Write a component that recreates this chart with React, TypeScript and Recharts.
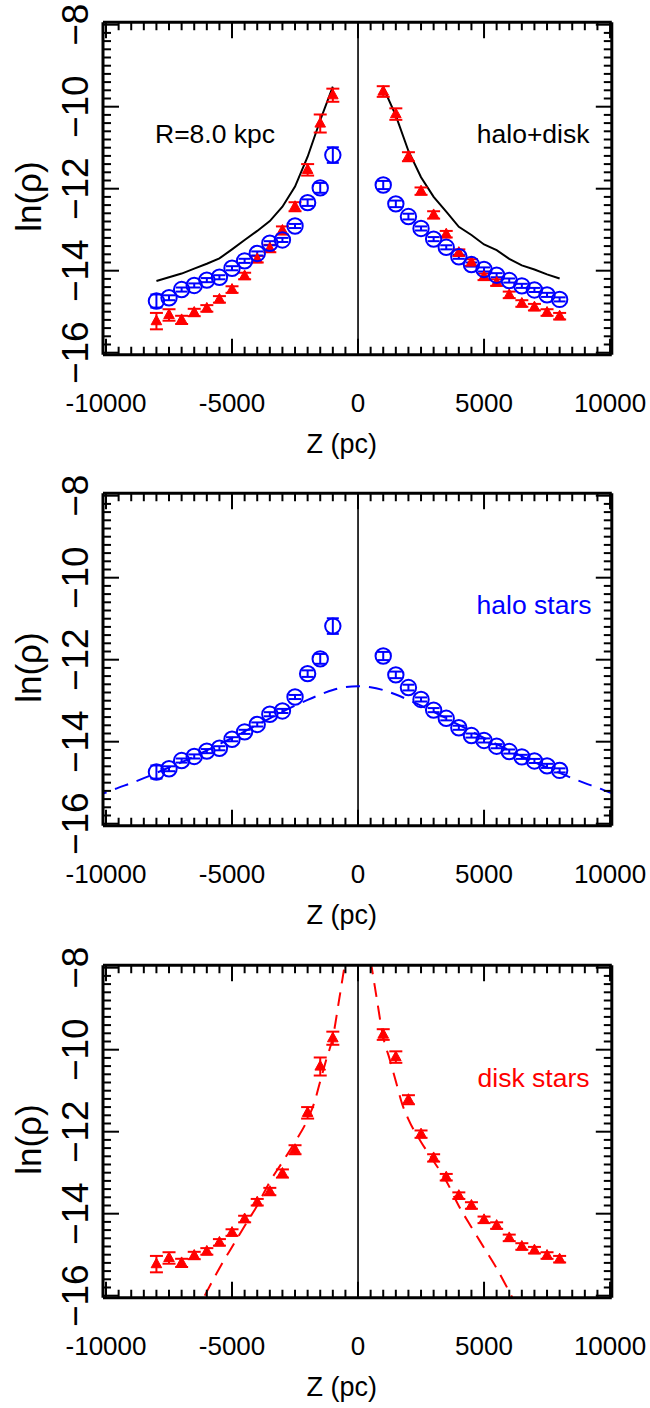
import React from "react";
import { ComposedChart, XAxis, YAxis, Scatter, Line, ErrorBar, ReferenceLine } from "recharts";

const FONT = "'Liberation Sans', Arial, Helvetica, sans-serif";
const BLUE = "#0000ff";
const RED = "#ff0000";

// ---- data ----
const Z_NEG = [-8000, -7500, -7000, -6500, -6000, -5500, -5000, -4500, -4000, -3500, -3000, -2500, -2000, -1500, -1000];
const Z_POS = [1000, 1500, 2000, 2500, 3000, 3500, 4000, 4500, 5000, 5500, 6000, 6500, 7000, 7500, 8000];

const HALO_NEG = [-14.74, -14.66, -14.46, -14.36, -14.23, -14.16, -13.94, -13.76, -13.58, -13.33, -13.25, -12.91, -12.34, -11.98, -11.18];
const HALO_POS = [-11.91, -12.37, -12.68, -12.97, -13.23, -13.43, -13.66, -13.85, -13.97, -14.11, -14.24, -14.37, -14.47, -14.59, -14.7];
const HALO_ERR_NEG = [0.16, 0.06, 0.05, 0.05, 0.05, 0.05, 0.05, 0.05, 0.05, 0.05, 0.05, 0.05, 0.08, 0.12, 0.19];
const HALO_ERR_POS = [0.1, 0.08, 0.07, 0.05, 0.05, 0.05, 0.05, 0.05, 0.05, 0.05, 0.05, 0.05, 0.05, 0.05, 0.05];

const DISK_NEG = [-15.23, -15.08, -15.2, -15.02, -14.92, -14.7, -14.46, -14.13, -13.72, -13.46, -13.02, -12.44, -11.54, -10.41, -9.72];
const DISK_POS = [-9.63, -10.18, -11.22, -12.06, -12.64, -13.11, -13.56, -13.8, -14.15, -14.29, -14.59, -14.8, -14.89, -15.02, -15.11];
const DISK_ERR_NEG = [0.2, 0.14, 0.1, 0.09, 0.08, 0.08, 0.08, 0.08, 0.08, 0.09, 0.1, 0.11, 0.14, 0.22, 0.16];
const DISK_ERR_POS = [0.13, 0.14, 0.11, 0.09, 0.09, 0.08, 0.08, 0.08, 0.08, 0.08, 0.08, 0.08, 0.08, 0.08, 0.08];

const SUM_NEG = [-14.25, -14.16, -14.07, -13.95, -13.83, -13.7, -13.48, -13.25, -13.03, -12.79, -12.44, -11.95, -11.22, -10.33, -9.51];
const SUM_POS = [-9.53, -10.22, -11.08, -11.72, -12.2, -12.56, -12.93, -13.13, -13.36, -13.5, -13.71, -13.87, -13.97, -14.09, -14.19];

const HALO_FIT_Z = [-10500, -10000, -9500, -9000, -8500, -8000, -7500, -7000, -6500, -6000, -5500, -5000, -4500, -4000, -3500, -3000, -2500, -2000, -1500, -1000, -500, 0, 500, 1000, 1500, 2000, 2500, 3000, 3500, 4000, 4500, 5000, 5500, 6000, 6500, 7000, 7500, 8000, 8500, 9000, 9500, 10000, 10500];
const HALO_FIT = [-15.35, -15.24, -15.12, -15.01, -14.89, -14.76, -14.63, -14.5, -14.36, -14.21, -14.06, -13.91, -13.75, -13.59, -13.43, -13.27, -13.12, -12.98, -12.85, -12.74, -12.67, -12.65, -12.67, -12.74, -12.85, -12.98, -13.12, -13.27, -13.43, -13.59, -13.75, -13.91, -14.06, -14.21, -14.36, -14.5, -14.63, -14.76, -14.89, -15.01, -15.12, -15.24, -15.35];

const DISK_FIT_Z_NEG = [-6500, -6000, -5500, -5000, -4500, -4000, -3500, -3000, -2500, -2000, -1750, -1500, -1250, -1000, -750, -500];
const DISK_FIT_NEG = [-16.5, -15.9, -15.33, -14.81, -14.3, -13.8, -13.22, -12.74, -12.25, -11.7, -11.32, -10.77, -10.22, -9.7, -8.78, -7.82];
const DISK_FIT_Z_POS = [500, 750, 1000, 1250, 1500, 1750, 2000, 2500, 3000, 3500, 4000, 4500, 5000, 5500, 6000, 6500];
const DISK_FIT_POS = [-7.82, -8.78, -9.7, -10.22, -10.77, -11.32, -11.7, -12.25, -12.72, -13.2, -13.81, -14.33, -14.83, -15.33, -15.9, -16.5];

// ---- axis ticks ----
const X_MAJOR = [-10000, -5000, 0, 5000, 10000];
const X_TICK_LABELS = ["-10000", "-5000", "0", "5000", "10000"];
const Y_MAJOR = [-16, -14, -12, -10, -8];
const Y_TICK_LABELS = ["\u221216", "\u221214", "\u221212", "\u221210", "\u22128"];
const X_MINOR_STEP = 500;
const Y_MINOR_STEP = 0.2;

const X_TICKS: number[] = [];
for (let z = X_MAJOR[0]; z <= X_MAJOR[X_MAJOR.length - 1]; z += X_MINOR_STEP) X_TICKS.push(z);
const Y_TICKS: number[] = [];
for (let i = 0; i <= 40; i++) Y_TICKS.push(Math.round((Y_MAJOR[0] + i * Y_MINOR_STEP) * 10) / 10);

// ---- layout ----
const W = 650;
const H = 471;
const PLOT_LEFT = 103;
const PLOT_RIGHT = 611.8;
const PLOT_TOP = 22.24;
const PLOT_H = 332.5;
const X_DOMAIN: [number, number] = [-10120, 10070];
const Y_DOMAIN: [number, number] = [-16.05, -7.94];
const PANEL_TOPS = [0, 471.4, 943.1];
const MAJOR_LEN = 16;
const MINOR_LEN = 8;

const pts = (zs: number[], vs: number[], es?: number[]) =>
  zs.map((z, i) => ({ z, v: vs[i], e: es ? es[i] : 0 }));

const haloNeg = pts(Z_NEG, HALO_NEG, HALO_ERR_NEG);
const haloPos = pts(Z_POS, HALO_POS, HALO_ERR_POS);
const diskNeg = pts(Z_NEG, DISK_NEG, DISK_ERR_NEG);
const diskPos = pts(Z_POS, DISK_POS, DISK_ERR_POS);
const sumNeg = pts(Z_NEG, SUM_NEG);
const sumPos = pts(Z_POS, SUM_POS);
const haloFit = pts(HALO_FIT_Z, HALO_FIT);
const diskFitNeg = pts(DISK_FIT_Z_NEG, DISK_FIT_NEG);
const diskFitPos = pts(DISK_FIT_Z_POS, DISK_FIT_POS);

const majorIndex = (arr: number[], v: number) => arr.findIndex((m) => Math.abs(m - v) < 1e-6);

const BottomTick = (props: any) => {
  const { x, y, payload } = props;
  const mi = majorIndex(X_MAJOR, payload.value);
  const len = mi >= 0 ? MAJOR_LEN : MINOR_LEN;
  return (
    <g>
      <line x1={x} y1={y} x2={x} y2={y - len} stroke="#000" strokeWidth={2} />
      {mi >= 0 && (
        <text x={x} y={y + 57.2} textAnchor="middle" fontSize={26} fontFamily={FONT} fill="#000">
          {X_TICK_LABELS[mi]}
        </text>
      )}
    </g>
  );
};

const TopTick = (props: any) => {
  const { x, y, payload } = props;
  const mi = majorIndex(X_MAJOR, payload.value);
  const len = mi >= 0 ? MAJOR_LEN : MINOR_LEN;
  return <line x1={x} y1={y} x2={x} y2={y + len} stroke="#000" strokeWidth={2} />;
};

const LeftTick = (props: any) => {
  const { x, y, payload } = props;
  const mi = majorIndex(Y_MAJOR, payload.value);
  const len = mi >= 0 ? MAJOR_LEN : MINOR_LEN;
  const tx = x - 14.7;
  return (
    <g>
      <line x1={x} y1={y} x2={x + len} y2={y} stroke="#000" strokeWidth={2} />
      {mi >= 0 && (
        <text
          x={tx}
          y={y}
          transform={`rotate(-90 ${tx} ${y})`}
          textAnchor="middle"
          fontSize={37}
          fontFamily={FONT}
          fill="#000"
        >
          {Y_TICK_LABELS[mi]}
        </text>
      )}
    </g>
  );
};

const RightTick = (props: any) => {
  const { x, y, payload } = props;
  const mi = majorIndex(Y_MAJOR, payload.value);
  const len = mi >= 0 ? MAJOR_LEN : MINOR_LEN;
  return <line x1={x} y1={y} x2={x - len} y2={y} stroke="#000" strokeWidth={2} />;
};

const circleShape = (p: any) => (
  <circle cx={p.cx} cy={p.cy} r={7.7} fill="none" stroke={BLUE} strokeWidth={2} />
);
const triShape = (p: any) => (
  <polygon
    points={`${p.cx},${p.cy - 6} ${p.cx - 5.3},${p.cy + 3.6} ${p.cx + 5.3},${p.cy + 3.6}`}
    fill={RED}
    stroke={RED}
    strokeWidth={1}
  />
);
const noShape = () => <g />;

const anchorData = [
  { z: X_DOMAIN[0], v: Y_DOMAIN[0] },
  { z: X_DOMAIN[1], v: Y_DOMAIN[1] },
];

type Kind = "both" | "halo" | "disk";

const Panel = ({ kind, top }: { kind: Kind; top: number }) => {
  const showHalo = kind !== "disk";
  const showDisk = kind !== "halo";
  return (
    <div style={{ position: "absolute", left: 0, top, width: W, height: H }}>
      <ComposedChart
        width={W}
        height={H}
        margin={{ top: PLOT_TOP - 1, right: W - PLOT_RIGHT - 1, bottom: 0, left: 0 }}
      >
        <XAxis
          xAxisId="b"
          dataKey="z"
          type="number"
          orientation="bottom"
          domain={X_DOMAIN}
          allowDataOverflow
          ticks={X_TICKS}
          interval={0}
          height={H - PLOT_TOP - PLOT_H}
          tickSize={0}
          tickMargin={0}
          tickLine={false}
          axisLine={{ stroke: "#000", strokeWidth: 3 }}
          tick={BottomTick}
        />
        <XAxis
          xAxisId="t"
          dataKey="z"
          type="number"
          orientation="top"
          domain={X_DOMAIN}
          allowDataOverflow
          ticks={X_TICKS}
          interval={0}
          height={1}
          tickSize={0}
          tickMargin={0}
          tickLine={false}
          axisLine={{ stroke: "#000", strokeWidth: 3 }}
          tick={TopTick}
        />
        <YAxis
          yAxisId="l"
          type="number"
          orientation="left"
          domain={Y_DOMAIN}
          allowDataOverflow
          ticks={Y_TICKS}
          interval={0}
          width={PLOT_LEFT}
          tickSize={0}
          tickMargin={0}
          tickLine={false}
          axisLine={{ stroke: "#000", strokeWidth: 3 }}
          tick={LeftTick}
        />
        <YAxis
          yAxisId="r"
          type="number"
          orientation="right"
          domain={Y_DOMAIN}
          allowDataOverflow
          ticks={Y_TICKS}
          interval={0}
          width={1}
          tickSize={0}
          tickMargin={0}
          tickLine={false}
          axisLine={{ stroke: "#000", strokeWidth: 3 }}
          tick={RightTick}
        />
        <ReferenceLine x={0} xAxisId="b" yAxisId="l" stroke="#000" strokeWidth={1.6} />

        <Scatter data={anchorData} dataKey="v" xAxisId="t" yAxisId="r" shape={noShape} isAnimationActive={false} />

        {kind === "both" && (
          <Line data={sumNeg} dataKey="v" xAxisId="b" yAxisId="l" type="linear" stroke="#000" strokeWidth={2} dot={false} isAnimationActive={false} />
        )}
        {kind === "both" && (
          <Line data={sumPos} dataKey="v" xAxisId="b" yAxisId="l" type="linear" stroke="#000" strokeWidth={2} dot={false} isAnimationActive={false} />
        )}
        {kind === "halo" && (
          <Line data={haloFit} dataKey="v" xAxisId="b" yAxisId="l" type="monotone" stroke={BLUE} strokeWidth={2} strokeDasharray="14 9" dot={false} isAnimationActive={false} />
        )}
        {kind === "disk" && (
          <Line data={diskFitNeg} dataKey="v" xAxisId="b" yAxisId="l" type="monotone" stroke={RED} strokeWidth={2} strokeDasharray="14 9" dot={false} isAnimationActive={false} />
        )}
        {kind === "disk" && (
          <Line data={diskFitPos} dataKey="v" xAxisId="b" yAxisId="l" type="monotone" stroke={RED} strokeWidth={2} strokeDasharray="14 9" dot={false} isAnimationActive={false} />
        )}

        {showDisk && (
          <Scatter data={diskNeg} dataKey="v" xAxisId="b" yAxisId="l" shape={triShape} isAnimationActive={false}>
            <ErrorBar dataKey="e" direction="y" width={6.5} stroke={RED} strokeWidth={2} isAnimationActive={false} />
          </Scatter>
        )}
        {showDisk && (
          <Scatter data={diskPos} dataKey="v" xAxisId="b" yAxisId="l" shape={triShape} isAnimationActive={false}>
            <ErrorBar dataKey="e" direction="y" width={6.5} stroke={RED} strokeWidth={2} isAnimationActive={false} />
          </Scatter>
        )}
        {showHalo && (
          <Scatter data={haloNeg} dataKey="v" xAxisId="b" yAxisId="l" shape={circleShape} isAnimationActive={false}>
            <ErrorBar dataKey="e" direction="y" width={6} stroke={BLUE} strokeWidth={2} isAnimationActive={false} />
          </Scatter>
        )}
        {showHalo && (
          <Scatter data={haloPos} dataKey="v" xAxisId="b" yAxisId="l" shape={circleShape} isAnimationActive={false}>
            <ErrorBar dataKey="e" direction="y" width={6} stroke={BLUE} strokeWidth={2} isAnimationActive={false} />
          </Scatter>
        )}
      </ComposedChart>
      <svg
        width={W}
        height={H}
        style={{ position: "absolute", left: 0, top: 0, pointerEvents: "none" }}
      >
        <text
          x={41.5}
          y={PLOT_TOP + 174.3}
          transform={`rotate(-90 41.5 ${PLOT_TOP + 174.3})`}
          textAnchor="middle"
          fontSize={35}
          fontFamily={FONT}
          fill="#000"
        >
          ln(ρ)
        </text>
        <text x={341.7} y={PLOT_TOP + PLOT_H + 98.3} textAnchor="middle" fontSize={27} fontFamily={FONT} fill="#000">
          Z (pc)
        </text>
        {kind === "both" && (
          <text x={155} y={142.7} textAnchor="start" fontSize={26.5} fontFamily={FONT} fill="#000">
            R=8.0 kpc
          </text>
        )}
        {kind === "both" && (
          <text x={589.5} y={142.7} textAnchor="end" fontSize={26.5} fontFamily={FONT} fill="#000">
            halo+disk
          </text>
        )}
        {kind === "halo" && (
          <text x={591.5} y={142.6} textAnchor="end" fontSize={26.5} fontFamily={FONT} fill={BLUE}>
            halo stars
          </text>
        )}
        {kind === "disk" && (
          <text x={589.5} y={143.8} textAnchor="end" fontSize={26.5} fontFamily={FONT} fill={RED}>
            disk stars
          </text>
        )}
      </svg>
    </div>
  );
}

export default function App() {
  return (
    <div style={{ position: "absolute", left: 0, top: 0, width: W, height: 1408, background: "#fff" }}>
      <Panel kind="both" top={PANEL_TOPS[0]} />
      <Panel kind="halo" top={PANEL_TOPS[1]} />
      <Panel kind="disk" top={PANEL_TOPS[2]} />
    </div>
  );
}
